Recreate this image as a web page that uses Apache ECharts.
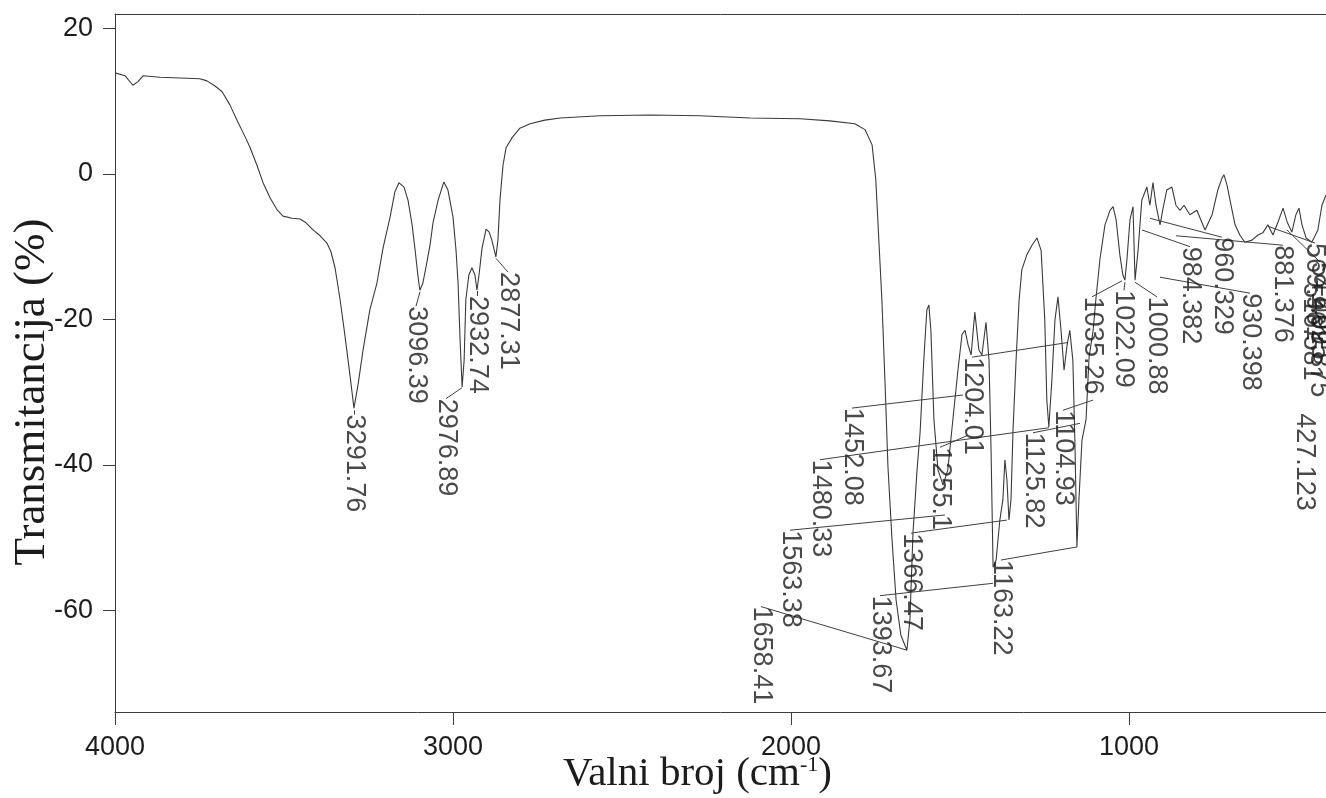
<!DOCTYPE html>
<html>
<head>
<meta charset="utf-8">
<script src="https://cdn.jsdelivr.net/npm/echarts@6/dist/echarts.min.js"></script>
<style>
  html, body { margin: 0; padding: 0; background: #fff; }
  #chart { width: 1326px; height: 798px; }
</style>
</head>
<body>
<div id="chart"></div>
<script>
// ---- Spectrum (wavenumber cm^-1, transmittance %) ----
const wavenumbers = [
  4000,3970,3947,3932,3917,3867,3808,3749,3728,3704,3683,3660,3639,3615,3601,3580,3562,3541,3521,3503,
  3476,3453,3438,3414,3393,3373,3361,3349,3334,3320,3305,3293,3281,3266,3246,3225,3207,3186,3172,3160,
  3145,3133,3121,3112,3104,3098,3089,3077,3068,3059,3044,3027,3015,3000,2991,2985,2979,2973,2967,2962,
  2953,2944,2935,2929,2923,2914,2902,2893,2885,2873,2867,2861,2852,2843,2825,2802,2772,2728,2683,2565,
  2417,2269,2121,1973,1885,1811,1781,1760,1749,1740,1731,1722,1713,1701,1689,1675,1657,1648,1639,1627,
  1618,1607,1598,1592,1586,1577,1565,1550,1536,1521,1506,1494,1485,1476,1467,1456,1444,1435,1423,1414,
  1408,1402,1393,1382,1373,1367,1361,1355,1349,1343,1334,1325,1317,1302,1287,1272,1260,1249,1243,1237,
  1228,1219,1210,1201,1192,1183,1175,1166,1160,1154,1148,1139,1127,1118,1106,1098,1086,1071,1056,1047,
  1038,1027,1018,1012,1006,997,988,982,973,962,947,938,929,920,908,899,888,873,861,849,
  837,820,799,775,754,737,725,719,710,698,686,672,657,636,618,604,589,574,559,544,
  532,518,506,497,488,476,459,441,429,417
];
const transmittance = [
  13.9,13.5,12.2,12.7,13.5,13.3,13.2,13.1,12.8,12.1,11.3,9.5,7.4,5.1,3.7,1.2,-1.2,-3.3,-4.9,-5.8,
  -6.1,-6.2,-6.6,-7.7,-8.5,-9.5,-10.7,-12.9,-17.3,-22.1,-27.6,-32.2,-29.0,-24.2,-18.7,-15.0,-10.2,-5.9,-2.5,-1.2,
  -1.8,-3.6,-7.0,-10.5,-13.9,-16.0,-15.0,-12.1,-9.8,-6.7,-3.6,-1.1,-2.2,-5.9,-10.5,-15.0,-22.8,-29.3,-25.6,-17.3,
  -13.9,-12.9,-13.9,-16.0,-13.9,-10.2,-7.6,-8.0,-9.1,-11.4,-9.1,-3.6,1.2,3.6,5.0,6.3,6.9,7.4,7.7,8.0,
  8.1,8.0,7.7,7.6,7.3,6.9,6.1,4.0,-0.8,-9.1,-17.3,-28.3,-40.3,-50.3,-58.6,-63.4,-65.5,-61.3,-49.4,-40.7,
  -35.6,-25.6,-18.7,-18.0,-21.5,-33.8,-40.7,-42.8,-40.7,-33.8,-27.0,-22.1,-21.5,-23.5,-24.9,-19.0,-24.2,-24.9,-20.4,-25.6,
  -38.0,-54.1,-53.1,-47.6,-44.8,-39.3,-42.1,-47.6,-44.8,-35.2,-25.6,-17.3,-13.2,-11.1,-9.8,-8.8,-10.5,-20.1,-31.1,-34.8,
  -28.3,-20.1,-16.9,-21.5,-27.0,-23.5,-21.5,-25.6,-36.6,-51.3,-44.8,-36.6,-33.8,-25.2,-21.5,-17.3,-11.8,-7.0,-5.0,-4.5,
  -6.3,-11.1,-13.9,-14.6,-11.8,-6.3,-4.5,-14.6,-10.5,-3.6,-1.8,-4.3,-1.2,-4.3,-7.0,-4.7,-2.2,-1.8,-4.3,-5.0,
  -4.3,-5.6,-5.0,-7.7,-5.6,-2.2,-0.6,-0.1,-1.5,-4.3,-7.0,-8.4,-9.4,-9.1,-8.4,-8.1,-7.0,-8.4,-6.6,-4.7,
  -6.6,-8.0,-5.6,-4.7,-7.0,-8.8,-9.4,-7.7,-4.3,-2.9
];

// ---- Peak annotations: text, label anchor (x,y) and peak point the leader goes to ----
const peakTexts = ['3291.76','3096.39','2976.89','2932.74','2877.31','1658.41','1563.38','1480.33','1452.08',
  '1393.67','1366.47','1255.1','1204.01','1163.22','1125.82','1104.93','1035.26','1022.09','1000.88',
  '984.382','960.329','930.398','881.376','569.961','541.025','516.581','499.875','427.123'];
const labelX = [3292.9,3109.5,3020.7,2929.0,2837.3,2088.7,2003.0,1914.2,1819.5,
  1736.7,1644.9,1559.2,1464.5,1378.7,1284.0,1195.2,1109.4,1014.8,917.2,
  819.5,724.8,642.0,544.4,449.7,434.9,458.6,440.8,479.3];
const labelY = [-33.1,-18.2,-30.9,-16.8,-13.5,-59.5,-49.0,-39.3,-32.2,
  -58.0,-49.4,-37.6,-25.2,-53.1,-35.6,-32.5,-16.9,-16.0,-16.9,
  -10.0,-8.7,-16.4,-9.8,-9.5,-12.1,-15.0,-17.3,-32.9];
const peakX = [3292.9,3097.6,2973.4,2929.0,2872.7,1656.8,1544.4,1236.7,1491.1,
  1402.3,1361.0,1479.3,1183.4,1153.8,1144.9,1106.5,1020.6,1011.8,982.2,
  961.5,937.8,908.2,860.9,588.7,532.5,458.6,440.8,479.3];
const peakY = [-32.5,-16.2,-29.4,-16.1,-11.6,-65.5,-46.9,-34.9,-30.4,
  -56.3,-47.6,-36.0,-23.2,-51.3,-34.3,-31.1,-14.7,-14.9,-14.9,
  -7.7,-6.1,-14.2,-8.5,-7.2,-7.7,-15.0,-17.3,-32.9];

// ---- Axis tick labels ----
const xTicks = [4000, 3000, 2000, 1000];
const yTicks = [20, 0, -20, -40, -60];

const ink = '#1c1c1c';
const lineInk = '#3c3c3c';

const chart = echarts.init(document.getElementById('chart'), null, { renderer: 'canvas' });

const spectrum = wavenumbers.map((w, i) => [w, transmittance[i]]);
const leaders = peakTexts.map((t, i) => ({ coords: [[labelX[i], labelY[i]], [peakX[i], peakY[i]]] }));
const labelPoints = peakTexts.map((t, i) => ({ name: t, value: [labelX[i], labelY[i]] }));

chart.setOption({
  animation: false,
  backgroundColor: '#ffffff',
  grid: { left: 115, right: 0, top: 14, bottom: 86, containLabel: false, outerBoundsMode: 'none' },
  xAxis: [{
    type: 'value', inverse: true, min: 417, max: 4000, position: 'bottom',
    axisLine: { show: true, onZero: false, lineStyle: { color: lineInk, width: 1 } },
    axisTick: { show: true, inside: false, length: 13, customValues: xTicks, lineStyle: { color: lineInk } },
    axisLabel: { show: true, customValues: xTicks, formatter: v => String(v), fontSize: 27, color: ink, fontFamily: 'Liberation Sans, Arial', margin: 22 },
    splitLine: { show: false },
    name: 'Valni broj (cm{sup|-1})',
    nameLocation: 'middle', nameGap: 42, nameMoveOverlap: false,
    nameTextStyle: {
      fontFamily: 'Liberation Serif, Times New Roman', fontSize: 41, color: ink,
      padding: [0, 46, 0, 0],
      rich: { sup: { fontFamily: 'Liberation Serif, Times New Roman', fontSize: 22, color: ink, verticalAlign: 'top', padding: [0, 0, 14, 0] } }
    }
  }, {
    type: 'value', inverse: true, min: 417, max: 4000, position: 'top',
    axisLine: { show: true, onZero: false, lineStyle: { color: lineInk, width: 1 } },
    axisTick: { show: false }, axisLabel: { show: false }, splitLine: { show: false }
  }],
  yAxis: {
    type: 'value', min: -74, max: 22,
    axisLine: { show: true, onZero: false, lineStyle: { color: lineInk, width: 1 } },
    axisTick: { show: true, inside: false, length: 12, customValues: yTicks, lineStyle: { color: lineInk } },
    axisLabel: { show: true, customValues: yTicks, fontSize: 27, color: ink, fontFamily: 'Liberation Sans, Arial', margin: 22 },
    splitLine: { show: false },
    name: 'Transmitancija (%)', nameLocation: 'middle', nameGap: 60, nameRotate: 90, nameMoveOverlap: false,
    nameTextStyle: { fontFamily: 'Liberation Serif, Times New Roman', fontSize: 45, color: ink, padding: [0, 58, 0, 0] }
  },
  series: [{
    type: 'line', data: spectrum, showSymbol: false, symbol: 'none', smooth: false,
    lineStyle: { color: '#3a3a3a', width: 1.1 }, z: 2, silent: true
  }, {
    type: 'lines', coordinateSystem: 'cartesian2d', data: leaders,
    lineStyle: { color: '#404040', width: 1, opacity: 1 }, z: 3, silent: true
  }, {
    type: 'scatter', data: labelPoints, symbolSize: 0, z: 4, silent: true,
    label: {
      show: true, formatter: '{b}', position: [0, 0], rotate: -90,
      align: 'left', verticalAlign: 'middle',
      fontSize: 27, color: ink, fontFamily: 'Liberation Sans, Arial'
    }
  }]
});
</script>
</body>
</html>
